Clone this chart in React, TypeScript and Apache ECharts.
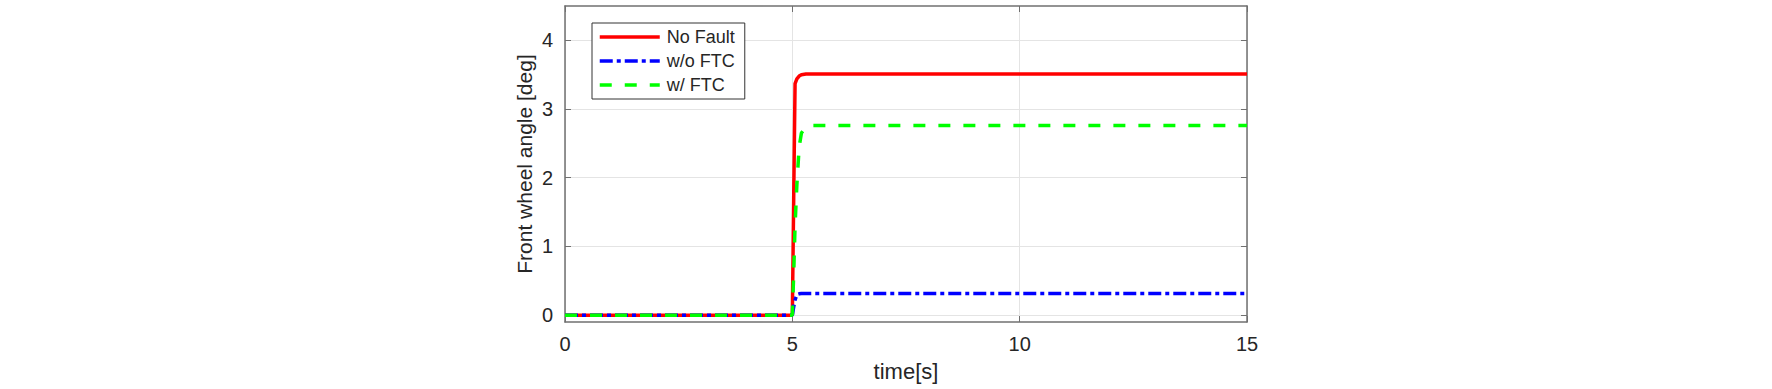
import React, { useEffect, useRef } from "react";
import * as echarts from "echarts";

const time = [0, 5.0, 5.03, 5.06, 5.1, 5.15, 5.2, 5.3, 5.4, 15];
const noFault = [0, 0, 1.7, 3.37, 3.44, 3.48, 3.5, 3.51, 3.51, 3.51];
const withoutFTC = [0, 0, 0.12, 0.22, 0.3, 0.31, 0.315, 0.316, 0.316, 0.316];
const withFTC = [0, 0, 0.6, 1.3, 1.9, 2.45, 2.65, 2.74, 2.76, 2.76];
const yTicks = [0, 1, 2, 3, 4];
const seriesNames = ["No Fault", "w/o FTC", "w/ FTC"];

const FONT = "'Liberation Sans', Arial, sans-serif";
const AXIS_COLOR = "#707070";
const TEXT_COLOR = "#262626";
const GRID_COLOR = "#e4e4e4";

function pairs(ys: number[]) {
  return time.map((t, i) => [t, ys[i]]);
}

export default function App() {
  const ref = useRef<HTMLDivElement>(null);
  useEffect(() => {
    if (!ref.current) return;
    const chart = echarts.init(ref.current, null, { renderer: "svg" });
    const tickCommon = { show: true, inside: true, length: 6, lineStyle: { color: AXIS_COLOR, width: 1 } };
    chart.setOption({
      animation: false,
      backgroundColor: "#ffffff",
      grid: { left: 565, right: 525, top: 6, bottom: 67, containLabel: false },
      legend: {
        orient: "vertical",
        left: 592,
        top: 23,
        data: seriesNames,
        itemWidth: 60,
        itemHeight: 18,
        itemGap: 6,
        padding: [5, 10, 5, 6],
        borderColor: "#333333",
        borderWidth: 1,
        backgroundColor: "#ffffff",
        itemStyle: { opacity: 0 },
        lineStyle: { width: 3.5 },
        textStyle: { fontFamily: FONT, fontSize: 18, color: TEXT_COLOR, padding: [0, 0, 0, 2] },
      },
      xAxis: [
        {
          type: "value",
          min: 0,
          max: 15,
          interval: 5,
          name: "time[s]",
          nameLocation: "middle",
          nameGap: 38,
          nameTextStyle: { fontFamily: FONT, fontSize: 22, color: TEXT_COLOR },
          axisLine: { show: true, onZero: false, lineStyle: { color: AXIS_COLOR, width: 1.5 } },
          axisTick: tickCommon,
          axisLabel: { fontFamily: FONT, fontSize: 20, color: TEXT_COLOR, margin: 12 },
          splitLine: { show: true, lineStyle: { color: GRID_COLOR, width: 1 } },
        },
        {
          type: "value",
          position: "top",
          min: 0,
          max: 15,
          interval: 5,
          axisLine: { show: true, onZero: false, lineStyle: { color: AXIS_COLOR, width: 1.5 } },
          axisTick: tickCommon,
          axisLabel: { show: false },
          splitLine: { show: false },
        },
      ],
      yAxis: [
        {
          type: "value",
          min: -0.1,
          max: 4.5,
          name: "Front wheel angle [deg]",
          nameLocation: "middle",
          nameGap: 30,
          nameTextStyle: { fontFamily: FONT, fontSize: 21, color: TEXT_COLOR },
          axisLine: { show: true, onZero: false, lineStyle: { color: AXIS_COLOR, width: 1.5 } },
          axisTick: { ...tickCommon, customValues: yTicks },
          axisLabel: { fontFamily: FONT, fontSize: 20, color: TEXT_COLOR, margin: 12, customValues: yTicks },
          splitLine: { show: true, lineStyle: { color: GRID_COLOR, width: 1 } },
        },
        {
          type: "value",
          position: "right",
          min: -0.1,
          max: 4.5,
          axisLine: { show: true, onZero: false, lineStyle: { color: AXIS_COLOR, width: 1.5 } },
          axisTick: { ...tickCommon, customValues: yTicks },
          axisLabel: { show: false, customValues: yTicks },
          splitLine: { show: false },
        },
      ],
      series: [
        {
          name: seriesNames[0],
          type: "line",
          data: pairs(noFault),
          showSymbol: false,
          symbol: "none",
          smooth: false,
          lineStyle: { color: "#ff0000", width: 3.5, type: "solid" },
          itemStyle: { color: "#ff0000" },
        },
        {
          name: seriesNames[1],
          type: "line",
          data: pairs(withoutFTC),
          showSymbol: false,
          symbol: "none",
          lineStyle: { color: "#0000ff", width: 3.5, type: [13, 4, 4, 4] },
          itemStyle: { color: "#0000ff" },
        },
        {
          name: seriesNames[2],
          type: "line",
          data: pairs(withFTC),
          showSymbol: false,
          symbol: "none",
          lineStyle: { color: "#00ff00", width: 3.5, type: [12, 13] },
          itemStyle: { color: "#00ff00" },
        },
      ],
    });
    return () => chart.dispose();
  }, []);
  return (
    <div
      ref={ref}
      style={{ position: "fixed", left: 0, top: 0, width: 1772, height: 389, background: "#ffffff" }}
    />
  );
}
